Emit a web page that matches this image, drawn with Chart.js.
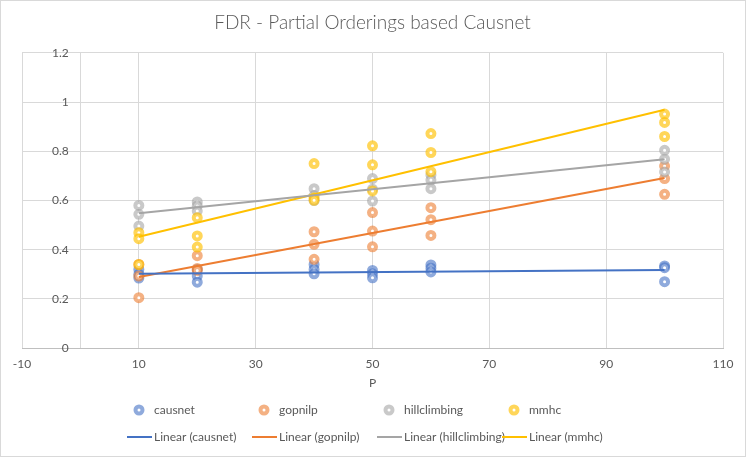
<!DOCTYPE html>
<html>
<head>
<meta charset="utf-8">
<script src="https://cdn.jsdelivr.net/npm/chart.js@4.4.1/dist/chart.umd.min.js"></script>
<style>
  html, body { margin: 0; padding: 0; background: #fff; }
  #wrap { width: 748px; height: 457px; }
</style>
</head>
<body>
<div id="wrap"><canvas id="myChart"></canvas></div>
<script>
// valori di P (asse x)
var pValues = [10, 20, 40, 50, 60, 100];
var seriesNames = ['causnet', 'gopnilp', 'hillclimbing', 'mmhc'];

// FDR, tre run per ogni P
var causnet = [[0.32, 0.30, 0.285], [0.32, 0.293, 0.268], [0.34, 0.32, 0.302], [0.316, 0.302, 0.286], [0.338, 0.325, 0.31], [0.334, 0.327, 0.27]];
var gopnilp = [[0.34, 0.293, 0.205], [0.376, 0.324, 0.316], [0.473, 0.422, 0.361], [0.551, 0.476, 0.412], [0.571, 0.522, 0.458], [0.74, 0.689, 0.625]];
var hillclimbing = [[0.58, 0.544, 0.496], [0.594, 0.578, 0.557], [0.648, 0.62, 0.60], [0.689, 0.646, 0.598], [0.704, 0.683, 0.648], [0.804, 0.768, 0.716]];
var mmhc = [[0.469, 0.445, 0.34], [0.53, 0.456, 0.411], [0.75, 0.611, 0.601], [0.822, 0.745, 0.639], [0.872, 0.795, 0.717], [0.951, 0.917, 0.86]];

// tick: lo 0 sull'asse x e' solo la linea dell'asse verticale
var xTicks = [-10, 0, 10, 30, 50, 70, 90, 110];
var yTicks = [0, 0.2, 0.4, 0.6, 0.8, 1, 1.2];

var lineColors = ['#4472C4', '#ED7D31', '#A5A5A5', '#FFC000'];
var markerColors = ['rgba(68,114,196,0.6)', 'rgba(237,125,49,0.6)', 'rgba(165,165,165,0.6)', 'rgba(255,192,0,0.65)'];

var allSeries = [causnet, gopnilp, hillclimbing, mmhc];

function toPoints(series) {
  var pts = [];
  for (var i = 0; i < pValues.length; i++) {
    for (var j = 0; j < series[i].length; j++) {
      pts.push({ x: pValues[i], y: series[i][j] });
    }
  }
  return pts;
}

// retta dei minimi quadrati (trendline lineare come Excel)
function linearFit(pts) {
  var n = pts.length, sx = 0, sy = 0, sxx = 0, sxy = 0;
  var minX = Infinity, maxX = -Infinity;
  pts.forEach(function (p) {
    sx += p.x; sy += p.y; sxx += p.x * p.x; sxy += p.x * p.y;
    if (p.x < minX) minX = p.x;
    if (p.x > maxX) maxX = p.x;
  });
  var b = (n * sxy - sx * sy) / (n * sxx - sx * sx);
  var a = (sy - b * sx) / n;
  return [{ x: minX, y: a + b * minX }, { x: maxX, y: a + b * maxX }];
}

var datasets = [];
allSeries.forEach(function (s, i) {
  datasets.push({
    label: seriesNames[i],
    data: toPoints(s),
    pointRadius: 3.5,
    pointBorderWidth: 4,
    pointBackgroundColor: '#ffffff',
    pointBorderColor: markerColors[i],
    borderColor: markerColors[i],
    backgroundColor: '#ffffff',
    order: 4 - i
  });
});
allSeries.forEach(function (s, i) {
  datasets.push({
    label: 'Linear (' + seriesNames[i] + ')',
    data: linearFit(toPoints(s)),
    showLine: true,
    pointRadius: 0,
    borderWidth: 2,
    borderColor: lineColors[i],
    order: 0
  });
});

// legenda stile Excel su due righe
var excelLegend = {
  id: 'excelLegend',
  afterDraw: function (chart) {
    var ctx = chart.ctx;
    ctx.save();
    ctx.font = '12px Lato';
    ctx.textBaseline = 'middle';
    ctx.textAlign = 'left';
    for (var i = 0; i < seriesNames.length; i++) {
      var x0 = 127 + i * 125;
      ctx.beginPath();
      ctx.arc(x0 + 12, 410, 3.5, 0, Math.PI * 2);
      ctx.fillStyle = '#ffffff';
      ctx.fill();
      ctx.lineWidth = 4;
      ctx.strokeStyle = markerColors[i];
      ctx.stroke();
      ctx.fillStyle = '#595959';
      ctx.fillText(seriesNames[i], x0 + 27, 410);

      ctx.beginPath();
      ctx.moveTo(x0, 437);
      ctx.lineTo(x0 + 25, 437);
      ctx.lineWidth = 2;
      ctx.strokeStyle = lineColors[i];
      ctx.stroke();
      ctx.fillText('Linear (' + seriesNames[i] + ')', x0 + 27, 437);
    }
    ctx.strokeStyle = '#D9D9D9';
    ctx.lineWidth = 1;
    ctx.strokeRect(0.5, 0.5, 745, 456);
    ctx.restore();
  }
};

var ctx = document.getElementById('myChart').getContext('2d');
var myChart = new Chart(ctx, {
  type: 'scatter',
  data: { datasets: datasets },
  plugins: [excelLegend],
  options: {
    responsive: true,
    maintainAspectRatio: false,
    animation: false,
    events: [],
    layout: { padding: { left: 22, right: 25, top: 0, bottom: 63 } },
    plugins: {
      legend: { display: false },
      tooltip: { enabled: false },
      title: {
        display: true,
        text: 'FDR - Partial Orderings based Causnet',
        color: '#595959',
        font: { family: 'Lato', size: 19, weight: 300 },
        padding: { top: 11, bottom: 19 }
      }
    },
    scales: {
      x: {
        type: 'linear',
        min: -10,
        max: 110,
        afterBuildTicks: function (axis) { axis.ticks = xTicks.map(function (v) { return { value: v }; }); },
        ticks: {
          color: '#595959', font: { family: 'Lato', size: 12 }, padding: 9,
          callback: function (v) { return v === 0 ? '' : v; }
        },
        grid: { color: '#D9D9D9', drawTicks: false },
        border: { color: '#BFBFBF', width: 1 },
        title: { display: true, text: 'P', color: '#595959', font: { family: 'Lato', size: 12 }, padding: { top: -5, bottom: 4 } }
      },
      y: {
        position: { x: -2 },
        min: 0,
        max: 1.2,
        afterBuildTicks: function (axis) { axis.ticks = yTicks.map(function (v) { return { value: v }; }); },
        ticks: {
          color: '#595959', font: { family: 'Lato', size: 12 },
          callback: function (v) { return String(v); }
        },
        grid: { color: '#D9D9D9', drawTicks: false },
        border: { display: false }
      }
    }
  }
});
</script>
</body>
</html>
